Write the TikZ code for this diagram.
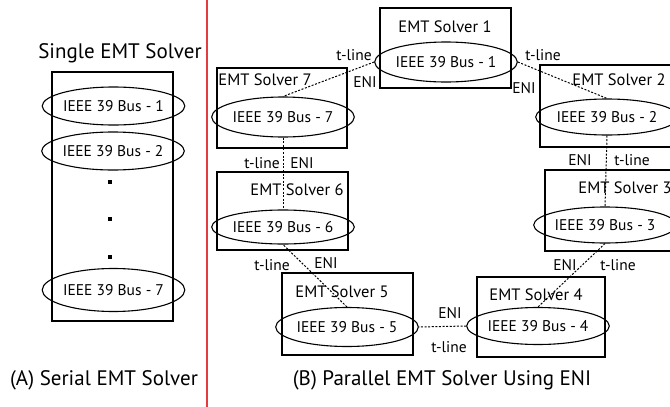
\documentclass[tikz,border=0pt]{standalone}
\usepackage{fontspec}
\setmainfont{PT Sans}
\usetikzlibrary{shapes.geometric}
\definecolor{sepred}{RGB}{228,60,60}
\tikzset{
  solverbox/.style={draw=black, line width=1.5pt, rectangle, inner sep=0pt},
  busell/.style={draw=black, line width=1.1pt, ellipse, inner sep=0pt, font=\fontsize{15.5}{16}\selectfont},
  lbl/.style={inner sep=0pt, font=\fontsize{16.5}{17}\selectfont},
  lnk/.style={inner sep=0pt, font=\fontsize{15.5}{16}\selectfont},
  title/.style={inner sep=0pt, font=\fontsize{21}{22}\selectfont},
  conn/.style={draw=black, line width=1pt, dash pattern=on 2pt off 1.6pt},
  dotsq/.style={fill=black, inner sep=0pt, minimum size=3.4pt, rectangle}
}
\begin{document}
\begin{tikzpicture}[x=1pt, y=-1pt]
\clip (0,0) rectangle (670,407);
% separator
\draw[draw=sepred, line width=1.3pt] (207,0) -- (207,407);
% left panel
\node[title] (ttlA) at (120,53) {Single EMT Solver};
\node[solverbox, minimum width=121pt, minimum height=249pt] (single) at (112.5,196.5) {};
\node[busell, minimum width=117pt, minimum height=38pt] (la1) at (113.5,106) {IEEE 39 Bus - 1};
\node[busell, minimum width=119pt, minimum height=38pt] (la2) at (113,151) {IEEE 39 Bus - 2};
\node[busell, minimum width=117pt, minimum height=43pt] (la7) at (113.5,290) {IEEE 39 Bus - 7};
\node[dotsq] (d1) at (110,182) {};
\node[dotsq] (d2) at (110,219) {};
\node[dotsq] (d3) at (110,257) {};
\node[title] (capA) at (104,380) {(A) Serial EMT Solver};
% right panel boxes
\node[solverbox, minimum width=131pt, minimum height=80pt] (s1) at (445.5,48) {};
\node[solverbox, minimum width=132pt, minimum height=82pt] (s2) at (606,106) {};
\node[solverbox, minimum width=132pt, minimum height=81pt] (s3) at (611,210.5) {};
\node[solverbox, minimum width=128pt, minimum height=80pt] (s4) at (541,317) {};
\node[solverbox, minimum width=131pt, minimum height=82pt] (s5) at (347.5,314) {};
\node[solverbox, minimum width=131pt, minimum height=78pt] (s6) at (282.5,211) {};
\node[solverbox, minimum width=130pt, minimum height=80pt] (s7) at (282,108) {};
% solver labels
\node[lbl] (t1) at (445,27) {EMT Solver 1};
\node[lbl] (t2) at (619,80) {EMT Solver 2};
\node[lbl] (t3) at (625,188) {EMT Solver 3};
\node[lbl] (t4) at (536,295) {EMT Solver 4};
\node[lbl] (t5) at (342,292) {EMT Solver 5};
\node[lbl] (t6) at (297,190) {EMT Solver 6};
\node[lbl] (t7) at (265,80) {EMT Solver 7};
% ellipses
\node[busell, minimum width=123pt, minimum height=40pt] (e1) at (446,62) {IEEE 39 Bus - 1};
\node[busell, minimum width=119pt, minimum height=36pt] (e2) at (607,117) {IEEE 39 Bus - 2};
\node[busell, minimum width=111pt, minimum height=36pt] (e3) at (605,225) {IEEE 39 Bus - 3};
\node[busell, minimum width=110pt, minimum height=37pt] (e4) at (538,326) {IEEE 39 Bus - 4};
\node[busell, minimum width=117pt, minimum height=39pt] (e5) at (347,327) {IEEE 39 Bus - 5};
\node[busell, minimum width=119pt, minimum height=34pt] (e6) at (283,227) {IEEE 39 Bus - 6};
\node[busell, minimum width=117pt, minimum height=40pt] (e7) at (283,117) {IEEE 39 Bus - 7};
% connectors
\draw[conn] (e1.west) -- (e7.north);
\draw[conn] (e1.east) -- (e2.north);
\draw[conn] (e2.south) -- (e3.north);
\draw[conn] (e3.south) -- (e4.north);
\draw[conn] (e4.west) -- (e5.east);
\draw[conn] (e5.north) -- (e6.south);
\draw[conn] (e7.south) -- (e6.north);
% connector labels
\node[lnk] (l17t) at (354,55) {t-line};
\node[lnk] (l17e) at (365,82) {ENI};
\node[lnk] (l12t) at (543,55) {t-line};
\node[lnk] (l12e) at (524,88) {ENI};
\node[lnk] (l23e) at (580,160) {ENI};
\node[lnk] (l23t) at (632,160) {t-line};
\node[lnk] (l34e) at (565,265) {ENI};
\node[lnk] (l34t) at (618,265) {t-line};
\node[lnk] (l45e) at (450,313) {ENI};
\node[lnk] (l45t) at (449,347) {t-line};
\node[lnk] (l56t) at (272,265) {t-line};
\node[lnk] (l56e) at (326,263) {ENI};
\node[lnk] (l67t) at (262,163) {t-line};
\node[lnk] (l67e) at (302,163) {ENI};
\node[title] (capB) at (442,380) {(B) Parallel EMT Solver Using ENI};
\end{tikzpicture}
\end{document}
